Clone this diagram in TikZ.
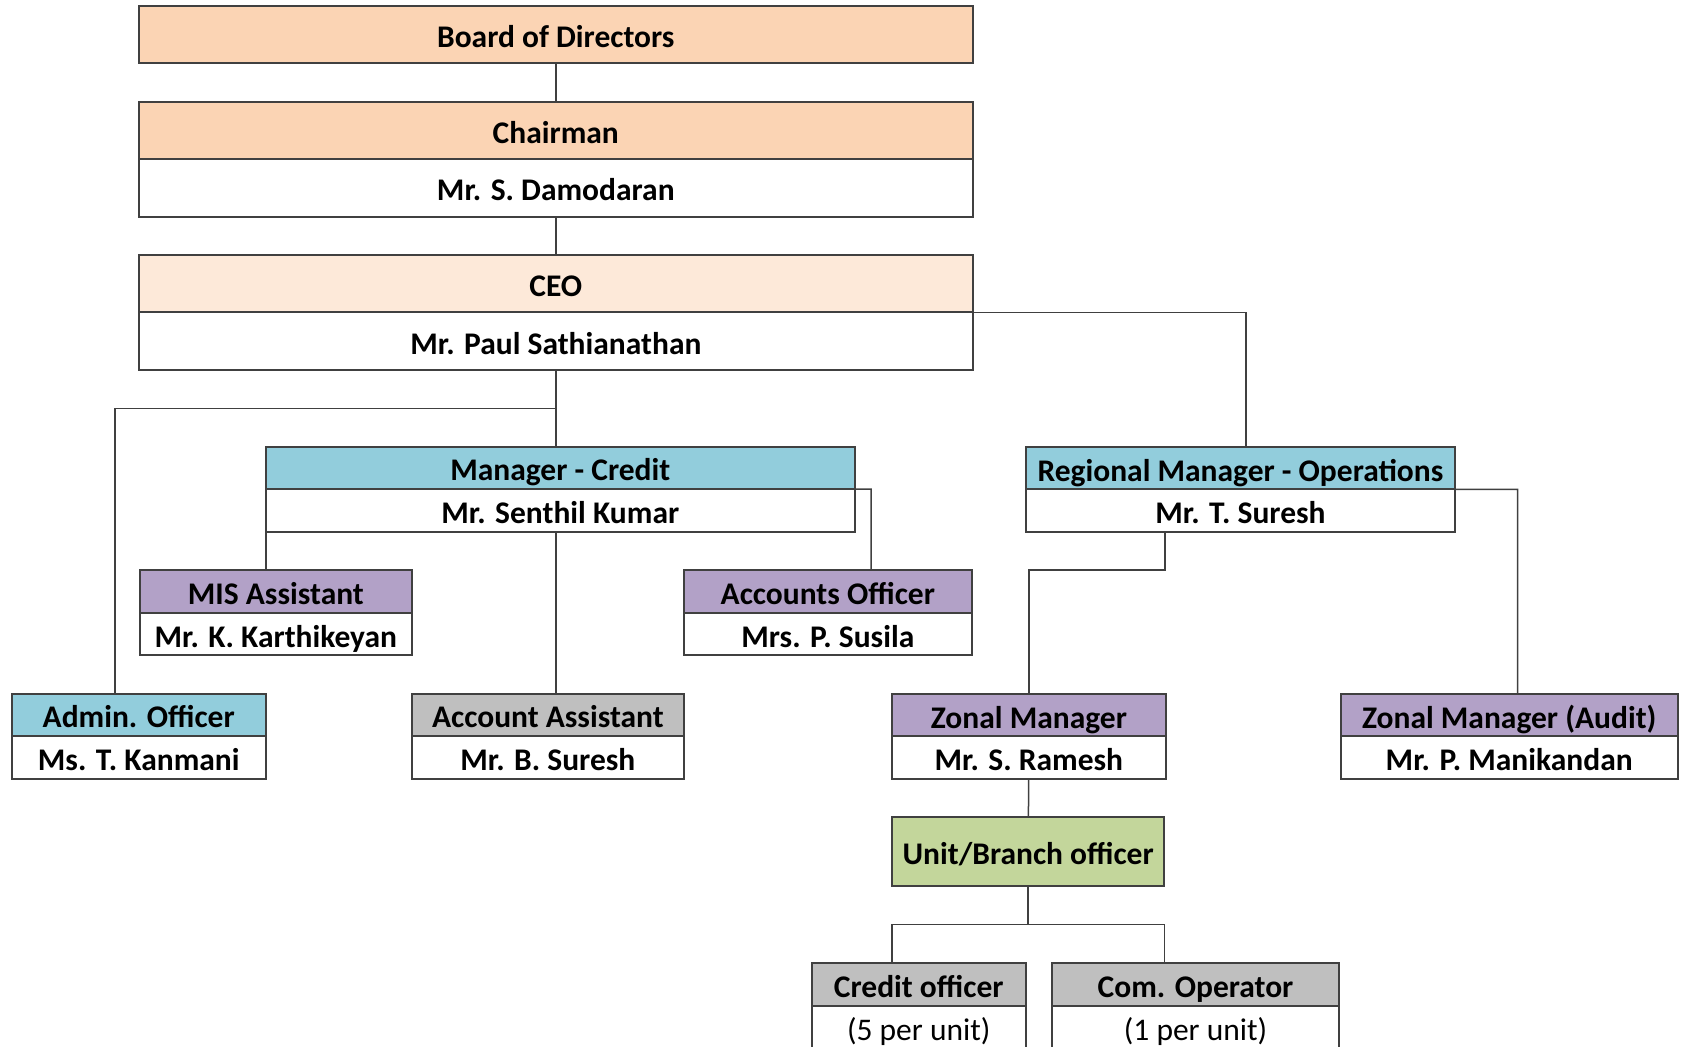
\documentclass[tikz,border=0pt]{standalone}
\usepackage{fontspec}
\setmainfont{Carlito}
\usetikzlibrary{positioning}
\definecolor{peach}{HTML}{FBD4B4}
\definecolor{ceopeach}{HTML}{FDE9D9}
\definecolor{credblue}{HTML}{92CDDC}
\definecolor{lilac}{HTML}{B2A1C7}
\definecolor{staffgray}{HTML}{BFBFBF}
\definecolor{unitgreen}{HTML}{C3D69B}
\definecolor{linegray}{HTML}{404040}

\begin{document}
\begin{tikzpicture}[x=0.5pt,y=-0.5pt,
  box/.style={draw=linegray,line width=1pt,outer sep=0pt,inner xsep=1pt,
    inner ysep=0pt,anchor=north west,text height=13pt,text depth=0pt,
    font=\fontsize{15.75}{18}\selectfont\bfseries},
  namebox/.style={box,fill=white,anchor=north},
  countbox/.style={namebox,font=\fontsize{15.75}{18}\selectfont},
  link/.style={draw=linegray,line width=0.75pt}]
  \useasboundingbox (0,0) rectangle (1681,1046);
  % top of the chart
  \node[box,fill=peach,minimum width=416.8pt,minimum height=28.8pt] (board)
    at (139,5.7) {Board of Directors};
  \node[box,fill=peach,minimum width=416.8pt,minimum height=28.65pt] (chairhead)
    at (139,101.7) {Chairman};
  \node[namebox,minimum width=416.8pt,minimum height=28.85pt,below=0pt of chairhead]
    (chairname) {Mr. S. Damodaran};
  \node[box,fill=ceopeach,minimum width=416.8pt,minimum height=28.65pt] (ceohead)
    at (139,255) {CEO};
  \node[namebox,minimum width=416.8pt,minimum height=28.85pt,below=0pt of ceohead]
    (ceoname) {Mr. Paul Sathianathan};
  % managers
  \node[box,fill=credblue,minimum width=294.3pt,minimum height=21.15pt] (mchead)
    at (266,446.7) {Manager - Credit};
  \node[namebox,minimum width=294.3pt,minimum height=21.5pt,below=0pt of mchead]
    (mcname) {Mr. Senthil Kumar};
  \node[box,fill=credblue,minimum width=214.15pt,minimum height=21.3pt] (rmhead)
    at (1026.3,446.7) {Regional Manager - Operations};
  \node[namebox,minimum width=214.15pt,minimum height=21.35pt,below=0pt of rmhead]
    (rmname) {Mr. T. Suresh};
  % credit staff
  \node[box,fill=lilac,minimum width=136.15pt,minimum height=21.2pt] (mishead)
    at (139.7,570.3) {MIS Assistant};
  \node[namebox,minimum width=136.15pt,minimum height=21.3pt,below=0pt of mishead]
    (misname) {Mr. K. Karthikeyan};
  \node[box,fill=lilac,minimum width=144.15pt,minimum height=21.2pt] (aohead)
    at (683.7,570.3) {Accounts Officer};
  \node[namebox,minimum width=144.15pt,minimum height=21.3pt,below=0pt of aohead]
    (aoname) {Mrs. P. Susila};
  \node[box,fill=credblue,minimum width=127.25pt,minimum height=21.15pt] (adminhead)
    at (11.5,693.7) {Admin. Officer};
  \node[namebox,minimum width=127.25pt,minimum height=21.35pt,below=0pt of adminhead]
    (adminname) {Ms. T. Kanmani};
  \node[box,fill=staffgray,minimum width=135.85pt,minimum height=21.15pt] (aahead)
    at (412,693.7) {Account Assistant};
  \node[namebox,minimum width=135.85pt,minimum height=21.35pt,below=0pt of aahead]
    (aaname) {Mr. B. Suresh};
  % operations staff
  \node[box,fill=lilac,minimum width=136.85pt,minimum height=21pt] (zmhead)
    at (892,694) {Zonal Manager};
  \node[namebox,minimum width=136.85pt,minimum height=21.5pt,below=0pt of zmhead]
    (zmname) {Mr. S. Ramesh};
  \node[box,fill=lilac,minimum width=168.7pt,minimum height=21pt] (zmahead)
    at (1340.5,694) {Zonal Manager (Audit)};
  \node[namebox,minimum width=168.7pt,minimum height=21.5pt,below=0pt of zmahead]
    (zmaname) {Mr. P. Manikandan};
  \node[box,fill=unitgreen,minimum width=136.15pt,minimum height=34.35pt] (unit)
    at (892,817.3) {Unit/Branch officer};
  \node[box,fill=staffgray,minimum width=107.15pt,minimum height=21.65pt] (credithead)
    at (811.6,962.7) {Credit officer};
  \node[countbox,minimum width=107.15pt,minimum height=21.6pt,below=0pt of credithead]
    (creditcount) {(5 per unit)};
  \node[box,fill=staffgray,minimum width=143.75pt,minimum height=21.65pt] (comhead)
    at (1051.8,962.7) {Com. Operator};
  \node[countbox,minimum width=143.75pt,minimum height=21.6pt,below=0pt of comhead]
    (comcount) {(1 per unit)};
  % bend points
  \coordinate (adminbranch) at (114.8,408.3);
  \coordinate (rmdrop) at (1245.8,312.3);
  \coordinate (aodrop) at (871.2,489);
  \coordinate (zmadrop) at (1517.5,489.3);
  \coordinate (zmbend) at (1165.1,570);
  \coordinate (staffbar) at (1025.9,924.3);
  % connectors
  \draw[link] (board) -- (chairhead);
  \draw[link] (chairname) -- (ceohead);
  \draw[link] (ceoname.south) -- (ceoname.south |- mchead.north);
  \draw[link] (ceoname.south |- adminbranch) -- (adminbranch)
    -- (adminbranch |- adminhead.north);
  \draw[link] (ceohead.south east) -- (rmdrop) -- (rmdrop |- rmhead.north);
  \draw[link] (mchead.south east) -- (aodrop) -- (aodrop |- aohead.north);
  \draw[link] (mcname.south west) -- (mcname.south west |- mishead.north);
  \draw[link] (ceoname.south |- mcname.south) -- (ceoname.south |- aahead.north);
  \draw[link] (rmhead.south east) -- (zmadrop) -- (zmadrop |- zmahead.north);
  \draw[link] (zmbend |- rmname.south) -- (zmbend) -| (zmhead.north);
  \draw[link] (zmname) -- (unit);
  \draw[link] (unit.south) -- (unit.south |- staffbar);
  \draw[link] (unit.south west |- credithead.north) -- (unit.south west |- staffbar)
    -- (unit.south east |- staffbar) -- (unit.south east |- comhead.north);
\end{tikzpicture}
\end{document}
